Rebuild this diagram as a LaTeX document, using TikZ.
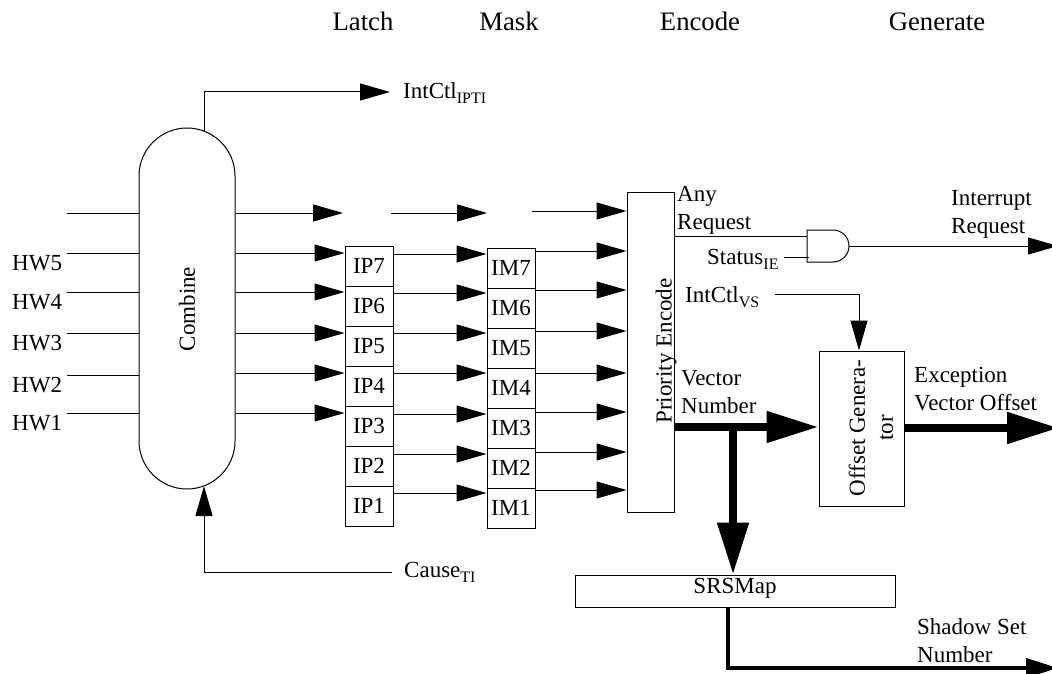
\documentclass[tikz,border=0pt]{standalone}
\usepackage{fontspec}
\setmainfont{Liberation Serif}
\usetikzlibrary{arrows.meta}
\newcommand{\lsub}[1]{\raisebox{-5pt}{\fontsize{16}{16}\selectfont #1}}
\begin{document}
\begin{tikzpicture}[x=1pt,y=-1pt,
  font=\fontsize{23}{28}\selectfont,
  wire/.style={line width=1pt},
  arr/.style={line width=1pt,-{Triangle[length=30pt,width=17pt]}},
  fat/.style={line width=8pt,-{Triangle[length=52pt,width=30pt]}},
  mid/.style={line width=4pt,-{Triangle[length=32pt,width=19pt]}},
  cell/.style={draw,line width=1pt,minimum width=48pt,minimum height=40pt,inner sep=0pt},
  box/.style={draw,line width=1pt,inner sep=0pt},
  lab/.style={inner sep=0pt,anchor=base west},
  hdr/.style={inner sep=0pt,anchor=base,font=\fontsize{26.7}{30}\selectfont},
  ml/.style={inner sep=0pt,anchor=base west,align=left}]
\clip (0,0) rectangle (1052,674);
\fill[white] (0,0) rectangle (1052,674);

% headers
\node[hdr] (hLatch) at (363,31) {Latch};
\node[hdr] (hMask) at (509,31) {Mask};
\node[hdr] (hEnc) at (700,31) {Encode};
\node[hdr] (hGen) at (937,31) {Generate};

% Combine
\node[draw,line width=1pt,minimum width=96pt,minimum height=361pt,rounded corners=48pt,inner sep=0pt] (comb) at (187,308.5) {};
\node[rotate=90,inner sep=0pt] (combt) at (187,309) {Combine};

% HW inputs
\coordinate (in0) at (67,213);
\draw[wire] (in0) -- (in0 -| comb.west);
\foreach \n/\y in {5/253,4/292,3/333,2/375,1/413}{
  \node[lab] (hw\n) at (12,\y+17) {HW\n};
  \coordinate (hwl\n) at (67,\y);
  \draw[wire] (hwl\n) -- (hwl\n -| comb.west);
}

% IP and IM boxes
\foreach \k [count=\i from 0] in {7,6,5,4,3,2,1}{
  \node[cell] (ip\k) at (369,266+40*\i) {IP\k};
  \node[cell] (im\k) at (511,268+40*\i) {IM\k};
}

% Priority encode
\node[box,minimum width=47pt,minimum height=320pt] (pe) at (650.5,352) {};
\node[rotate=90,inner sep=0pt] (pet) at (666,351) {Priority Encode};

% Combine -> latch
\coordinate (c0) at (comb.east |- 0,213);
\draw[arr] (c0) -- (343,213);
\foreach \k/\y in {7/253,6/292,5/333,4/373,3/413}{
  \coordinate (cc\k) at (comb.east |- 0,\y);
  \draw[arr] (cc\k) -- (ip\k.west |- cc\k);
}

% latch -> mask
\coordinate (m0) at (391,213);
\draw[arr] (m0) -- (487,213);
\foreach \k/\y in {7/254,6/293,5/333,4/373,3/414,2/454,1/493}{
  \coordinate (ii\k) at (ip\k.east |- 0,\y);
  \draw[arr] (ii\k) -- (im\k.west |- ii\k);
}

% mask -> encode
\coordinate (e0) at (532,211);
\draw[arr] (e0) -- (pe.west |- e0);
\foreach \k/\y in {7/251,6/290,5/331,4/373,3/412,2/452,1/490}{
  \coordinate (mm\k) at (im\k.east |- 0,\y);
  \draw[arr] (mm\k) -- (pe.west |- mm\k);
}

% IntCtl IPTI
\coordinate (ctop) at (204,131);
\node[lab] (ipti) at (403,99) {IntCtl\lsub{IPTI}};
\draw[arr] (ctop) |- (390,92);

% Cause TI
\node[lab] (cause) at (404,577) {Cause\lsub{TI}};
\coordinate (cend) at (392,572);
\coordinate (cbot) at (204,486);
\draw[arr] (cend) -| (cbot);

% Any request / AND gate
\node[ml] (anyr) at (677,229) {Any\\Request};
\draw[line width=1pt] (807,230) -- (833,230) arc[start angle=90,end angle=-90,radius=16pt] -- (807,262) -- cycle;
\coordinate (gin1) at (807,236);
\coordinate (gin2) at (809,257);
\coordinate (gout) at (849,246);
\draw[wire] (pe.east |- gin1) -- (gin1);
\node[lab] (stat) at (707,264) {Status\lsub{IE}};
\coordinate (sten) at (784,257);
\draw[wire] (sten) -- (gin2);
\node[ml] (intr) at (951,233) {Interrupt\\Request};
\draw[arr] (gout) -- (1058,246);

% Offset generator
\node[box,minimum width=85pt,minimum height=155pt] (og) at (861.5,428.5) {};
\node[rotate=90,inner sep=0pt,align=center] (ogt) at (871,428) {Offset Genera-\\tor};
\node[lab] (vs) at (685,302) {IntCtl\lsub{VS}};
\coordinate (vsen) at (775,294);
\draw[arr] (vsen) -| (og.north -| 859,0);

% Vector number
\node[ml] (vnum) at (681,413) {Vector\\Number};
\coordinate (vn) at (733,427);
\draw[fat] (pe.east |- vn) -- (og.west |- vn);

% SRSMap
\node[box,minimum width=320pt,minimum height=32pt] (srs) at (735,591) {};
\node[inner sep=0pt,anchor=base] (srst) at (735,593) {SRSMap};
\draw[fat] (vn) -- (srs.north -| vn);

% Exception vector offset
\node[ml] (evo) at (914,410) {Exception\\Vector Offset};
\draw[fat] (og.east |- 0,428) -- (1059,428);

% Shadow set number
\node[ml] (ssn) at (917,662) {Shadow Set\\Number};
\coordinate (ss0) at (728,607);
\draw[mid] (ss0) |- (1058,668);
\end{tikzpicture}
\end{document}
